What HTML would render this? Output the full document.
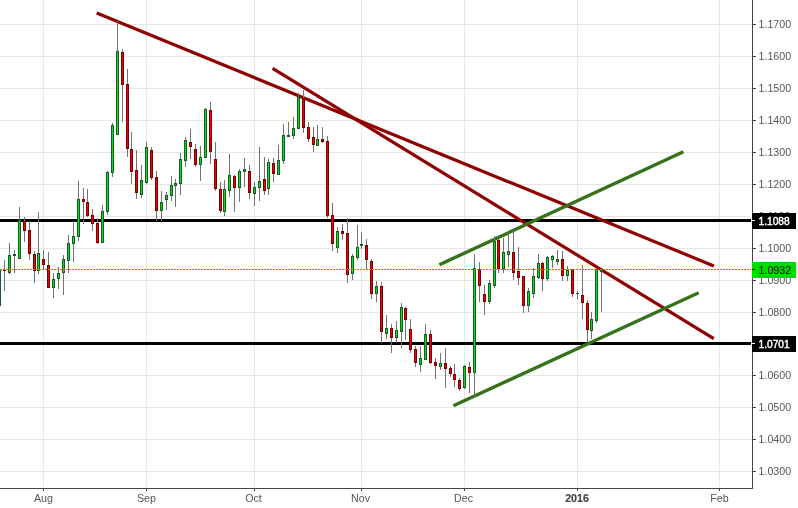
<!DOCTYPE html>
<html><head><meta charset="utf-8"><title>EUR/USD chart</title>
<style>html,body{margin:0;padding:0;background:#fff;overflow:hidden}body{width:798px;height:508px;position:relative}</style>
</head><body>
<svg width="798" height="508" viewBox="0 0 798 508" style="position:absolute;left:0;top:0">
<rect width="798" height="508" fill="#fff"/>
<g shape-rendering="crispEdges" fill="#e6e6e6">
<rect x="0" y="24" width="751" height="1"/>
<rect x="0" y="56" width="751" height="1"/>
<rect x="0" y="88" width="751" height="1"/>
<rect x="0" y="120" width="751" height="1"/>
<rect x="0" y="152" width="751" height="1"/>
<rect x="0" y="184" width="751" height="1"/>
<rect x="0" y="216" width="751" height="1"/>
<rect x="0" y="248" width="751" height="1"/>
<rect x="0" y="280" width="751" height="1"/>
<rect x="0" y="312" width="751" height="1"/>
<rect x="0" y="343" width="751" height="1"/>
<rect x="0" y="375" width="751" height="1"/>
<rect x="0" y="407" width="751" height="1"/>
<rect x="0" y="439" width="751" height="1"/>
<rect x="0" y="471" width="751" height="1"/>
<rect x="43" y="0" width="1" height="487"/>
<rect x="146" y="0" width="1" height="487"/>
<rect x="254" y="0" width="1" height="487"/>
<rect x="361" y="0" width="1" height="487"/>
<rect x="464" y="0" width="1" height="487"/>
<rect x="577" y="0" width="1" height="487"/>
<rect x="719" y="0" width="1" height="487"/>
</g>
<g shape-rendering="crispEdges" fill="#000">
<rect x="0" y="219" width="751" height="3"/>
<rect x="0" y="342" width="751" height="3"/>
</g>
<line x1="96.7" y1="13.0" x2="713.9" y2="266.0" stroke="#8f0000" stroke-width="3.2"/>
<line x1="272.6" y1="68.4" x2="713.8" y2="338.7" stroke="#8f0000" stroke-width="3.2"/>
<line x1="439.4" y1="264.7" x2="683.4" y2="151.8" stroke="#35721a" stroke-width="3.4"/>
<line x1="453.4" y1="405.7" x2="698.7" y2="292.8" stroke="#35721a" stroke-width="3.4"/>
<g shape-rendering="crispEdges">
<rect x="-1.0" y="270" width="1" height="36" fill="#737373"/>
<rect x="-2.0" y="270" width="3" height="36" fill="#155c2a"/>
<rect x="-1.0" y="271" width="1" height="34" fill="#08e208"/>
<rect x="4.0" y="260" width="1" height="31" fill="#737373"/>
<rect x="3.0" y="270" width="3" height="1" fill="#760000"/>
<rect x="9.0" y="243" width="1" height="31" fill="#737373"/>
<rect x="8.0" y="255" width="3" height="18" fill="#155c2a"/>
<rect x="9.0" y="256" width="1" height="16" fill="#08e208"/>
<rect x="14.0" y="250" width="1" height="23" fill="#737373"/>
<rect x="13.0" y="254" width="3" height="2" fill="#155c2a"/>
<rect x="19.0" y="207" width="1" height="52" fill="#737373"/>
<rect x="18.0" y="220" width="3" height="39" fill="#155c2a"/>
<rect x="19.0" y="221" width="1" height="37" fill="#08e208"/>
<rect x="24.0" y="217" width="1" height="25" fill="#737373"/>
<rect x="23.0" y="221" width="3" height="10" fill="#760000"/>
<rect x="24.0" y="222" width="1" height="8" fill="#f00000"/>
<rect x="29.0" y="221" width="1" height="39" fill="#737373"/>
<rect x="28.0" y="230" width="3" height="24" fill="#760000"/>
<rect x="29.0" y="231" width="1" height="22" fill="#f00000"/>
<rect x="34.0" y="251" width="1" height="32" fill="#737373"/>
<rect x="33.0" y="254" width="3" height="17" fill="#760000"/>
<rect x="34.0" y="255" width="1" height="15" fill="#f00000"/>
<rect x="38.0" y="212" width="1" height="62" fill="#737373"/>
<rect x="37.0" y="253" width="3" height="18" fill="#155c2a"/>
<rect x="38.0" y="254" width="1" height="16" fill="#08e208"/>
<rect x="43.0" y="250" width="1" height="19" fill="#737373"/>
<rect x="42.0" y="259" width="3" height="6" fill="#760000"/>
<rect x="43.0" y="260" width="1" height="4" fill="#f00000"/>
<rect x="48.0" y="252" width="1" height="36" fill="#737373"/>
<rect x="47.0" y="265" width="3" height="23" fill="#760000"/>
<rect x="48.0" y="266" width="1" height="21" fill="#f00000"/>
<rect x="53.0" y="273" width="1" height="25" fill="#737373"/>
<rect x="52.0" y="279" width="3" height="9" fill="#155c2a"/>
<rect x="53.0" y="280" width="1" height="7" fill="#08e208"/>
<rect x="58.0" y="267" width="1" height="22" fill="#737373"/>
<rect x="57.0" y="273" width="3" height="6" fill="#155c2a"/>
<rect x="58.0" y="274" width="1" height="4" fill="#08e208"/>
<rect x="63.0" y="255" width="1" height="40" fill="#737373"/>
<rect x="62.0" y="259" width="3" height="14" fill="#155c2a"/>
<rect x="63.0" y="260" width="1" height="12" fill="#08e208"/>
<rect x="68.0" y="235" width="1" height="38" fill="#737373"/>
<rect x="67.0" y="243" width="3" height="18" fill="#155c2a"/>
<rect x="68.0" y="244" width="1" height="16" fill="#08e208"/>
<rect x="73.0" y="221" width="1" height="41" fill="#737373"/>
<rect x="72.0" y="236" width="3" height="8" fill="#155c2a"/>
<rect x="73.0" y="237" width="1" height="6" fill="#08e208"/>
<rect x="78.0" y="181" width="1" height="60" fill="#737373"/>
<rect x="77.0" y="199" width="3" height="38" fill="#155c2a"/>
<rect x="78.0" y="200" width="1" height="36" fill="#08e208"/>
<rect x="83.0" y="188" width="1" height="36" fill="#737373"/>
<rect x="82.0" y="199" width="3" height="3" fill="#760000"/>
<rect x="83.0" y="200" width="1" height="1" fill="#f00000"/>
<rect x="87.0" y="189" width="1" height="28" fill="#737373"/>
<rect x="86.0" y="202" width="3" height="14" fill="#760000"/>
<rect x="87.0" y="203" width="1" height="12" fill="#f00000"/>
<rect x="92.0" y="209" width="1" height="22" fill="#737373"/>
<rect x="91.0" y="215" width="3" height="9" fill="#760000"/>
<rect x="92.0" y="216" width="1" height="7" fill="#f00000"/>
<rect x="97.0" y="218" width="1" height="26" fill="#737373"/>
<rect x="96.0" y="223" width="3" height="20" fill="#760000"/>
<rect x="97.0" y="224" width="1" height="18" fill="#f00000"/>
<rect x="102.0" y="205" width="1" height="38" fill="#737373"/>
<rect x="101.0" y="211" width="3" height="32" fill="#155c2a"/>
<rect x="102.0" y="212" width="1" height="30" fill="#08e208"/>
<rect x="107.0" y="171" width="1" height="44" fill="#737373"/>
<rect x="106.0" y="172" width="3" height="40" fill="#155c2a"/>
<rect x="107.0" y="173" width="1" height="38" fill="#08e208"/>
<rect x="112.0" y="123" width="1" height="54" fill="#737373"/>
<rect x="111.0" y="125" width="3" height="48" fill="#155c2a"/>
<rect x="112.0" y="126" width="1" height="46" fill="#08e208"/>
<rect x="117.0" y="21" width="1" height="114" fill="#737373"/>
<rect x="116.0" y="51" width="3" height="84" fill="#155c2a"/>
<rect x="117.0" y="52" width="1" height="82" fill="#08e208"/>
<rect x="122.0" y="49" width="1" height="73" fill="#737373"/>
<rect x="121.0" y="52" width="3" height="33" fill="#760000"/>
<rect x="122.0" y="53" width="1" height="31" fill="#f00000"/>
<rect x="127.0" y="69" width="1" height="88" fill="#737373"/>
<rect x="126.0" y="84" width="3" height="65" fill="#760000"/>
<rect x="127.0" y="85" width="1" height="63" fill="#f00000"/>
<rect x="131.0" y="132" width="1" height="52" fill="#737373"/>
<rect x="130.0" y="149" width="3" height="23" fill="#760000"/>
<rect x="131.0" y="150" width="1" height="21" fill="#f00000"/>
<rect x="136.0" y="150" width="1" height="49" fill="#737373"/>
<rect x="135.0" y="170" width="3" height="23" fill="#760000"/>
<rect x="136.0" y="171" width="1" height="21" fill="#f00000"/>
<rect x="141.0" y="165" width="1" height="33" fill="#737373"/>
<rect x="140.0" y="180" width="3" height="15" fill="#155c2a"/>
<rect x="141.0" y="181" width="1" height="13" fill="#08e208"/>
<rect x="146.0" y="142" width="1" height="42" fill="#737373"/>
<rect x="145.0" y="147" width="3" height="36" fill="#155c2a"/>
<rect x="146.0" y="148" width="1" height="34" fill="#08e208"/>
<rect x="151.0" y="147" width="1" height="33" fill="#737373"/>
<rect x="150.0" y="150" width="3" height="28" fill="#760000"/>
<rect x="151.0" y="151" width="1" height="26" fill="#f00000"/>
<rect x="156.0" y="171" width="1" height="50" fill="#737373"/>
<rect x="155.0" y="177" width="3" height="34" fill="#760000"/>
<rect x="156.0" y="178" width="1" height="32" fill="#f00000"/>
<rect x="161.0" y="191" width="1" height="30" fill="#737373"/>
<rect x="160.0" y="202" width="3" height="9" fill="#155c2a"/>
<rect x="161.0" y="203" width="1" height="7" fill="#08e208"/>
<rect x="166.0" y="192" width="1" height="18" fill="#737373"/>
<rect x="165.0" y="195" width="3" height="5" fill="#155c2a"/>
<rect x="166.0" y="196" width="1" height="3" fill="#08e208"/>
<rect x="171.0" y="176" width="1" height="25" fill="#737373"/>
<rect x="170.0" y="185" width="3" height="11" fill="#155c2a"/>
<rect x="171.0" y="186" width="1" height="9" fill="#08e208"/>
<rect x="175.0" y="179" width="1" height="28" fill="#737373"/>
<rect x="174.0" y="183" width="3" height="3" fill="#155c2a"/>
<rect x="175.0" y="184" width="1" height="1" fill="#08e208"/>
<rect x="180.0" y="153" width="1" height="42" fill="#737373"/>
<rect x="179.0" y="159" width="3" height="25" fill="#155c2a"/>
<rect x="180.0" y="160" width="1" height="23" fill="#08e208"/>
<rect x="185.0" y="137" width="1" height="30" fill="#737373"/>
<rect x="184.0" y="140" width="3" height="21" fill="#155c2a"/>
<rect x="185.0" y="141" width="1" height="19" fill="#08e208"/>
<rect x="190.0" y="129" width="1" height="30" fill="#737373"/>
<rect x="189.0" y="142" width="3" height="5" fill="#760000"/>
<rect x="190.0" y="143" width="1" height="3" fill="#f00000"/>
<rect x="195.0" y="144" width="1" height="23" fill="#737373"/>
<rect x="194.0" y="149" width="3" height="16" fill="#760000"/>
<rect x="195.0" y="150" width="1" height="14" fill="#f00000"/>
<rect x="200.0" y="146" width="1" height="35" fill="#737373"/>
<rect x="199.0" y="157" width="3" height="8" fill="#155c2a"/>
<rect x="200.0" y="158" width="1" height="6" fill="#08e208"/>
<rect x="205.0" y="108" width="1" height="50" fill="#737373"/>
<rect x="204.0" y="109" width="3" height="49" fill="#155c2a"/>
<rect x="205.0" y="110" width="1" height="47" fill="#08e208"/>
<rect x="210.0" y="102" width="1" height="62" fill="#737373"/>
<rect x="209.0" y="110" width="3" height="42" fill="#760000"/>
<rect x="210.0" y="111" width="1" height="40" fill="#f00000"/>
<rect x="215.0" y="142" width="1" height="49" fill="#737373"/>
<rect x="214.0" y="159" width="3" height="30" fill="#760000"/>
<rect x="215.0" y="160" width="1" height="28" fill="#f00000"/>
<rect x="220.0" y="182" width="1" height="31" fill="#737373"/>
<rect x="219.0" y="189" width="3" height="22" fill="#760000"/>
<rect x="220.0" y="190" width="1" height="20" fill="#f00000"/>
<rect x="224.0" y="180" width="1" height="36" fill="#737373"/>
<rect x="223.0" y="189" width="3" height="23" fill="#155c2a"/>
<rect x="224.0" y="190" width="1" height="21" fill="#08e208"/>
<rect x="229.0" y="154" width="1" height="43" fill="#737373"/>
<rect x="228.0" y="175" width="3" height="16" fill="#155c2a"/>
<rect x="229.0" y="176" width="1" height="14" fill="#08e208"/>
<rect x="234.0" y="175" width="1" height="37" fill="#737373"/>
<rect x="233.0" y="176" width="3" height="12" fill="#760000"/>
<rect x="234.0" y="177" width="1" height="10" fill="#f00000"/>
<rect x="239.0" y="169" width="1" height="33" fill="#737373"/>
<rect x="238.0" y="171" width="3" height="17" fill="#155c2a"/>
<rect x="239.0" y="172" width="1" height="15" fill="#08e208"/>
<rect x="244.0" y="158" width="1" height="29" fill="#737373"/>
<rect x="243.0" y="169" width="3" height="3" fill="#155c2a"/>
<rect x="244.0" y="170" width="1" height="1" fill="#08e208"/>
<rect x="249.0" y="165" width="1" height="34" fill="#737373"/>
<rect x="248.0" y="171" width="3" height="22" fill="#760000"/>
<rect x="249.0" y="172" width="1" height="20" fill="#f00000"/>
<rect x="254.0" y="182" width="1" height="24" fill="#737373"/>
<rect x="253.0" y="187" width="3" height="7" fill="#155c2a"/>
<rect x="254.0" y="188" width="1" height="5" fill="#08e208"/>
<rect x="259.0" y="147" width="1" height="54" fill="#737373"/>
<rect x="258.0" y="181" width="3" height="7" fill="#155c2a"/>
<rect x="259.0" y="182" width="1" height="5" fill="#08e208"/>
<rect x="264.0" y="157" width="1" height="38" fill="#737373"/>
<rect x="263.0" y="179" width="3" height="12" fill="#760000"/>
<rect x="264.0" y="180" width="1" height="10" fill="#f00000"/>
<rect x="268.0" y="159" width="1" height="36" fill="#737373"/>
<rect x="267.0" y="162" width="3" height="27" fill="#155c2a"/>
<rect x="268.0" y="163" width="1" height="25" fill="#08e208"/>
<rect x="273.0" y="158" width="1" height="24" fill="#737373"/>
<rect x="272.0" y="163" width="3" height="11" fill="#760000"/>
<rect x="273.0" y="164" width="1" height="9" fill="#f00000"/>
<rect x="278.0" y="145" width="1" height="30" fill="#737373"/>
<rect x="277.0" y="160" width="3" height="15" fill="#155c2a"/>
<rect x="278.0" y="161" width="1" height="13" fill="#08e208"/>
<rect x="283.0" y="124" width="1" height="40" fill="#737373"/>
<rect x="282.0" y="135" width="3" height="26" fill="#155c2a"/>
<rect x="283.0" y="136" width="1" height="24" fill="#08e208"/>
<rect x="288.0" y="122" width="1" height="15" fill="#737373"/>
<rect x="287.0" y="135" width="3" height="2" fill="#155c2a"/>
<rect x="293.0" y="117" width="1" height="22" fill="#737373"/>
<rect x="292.0" y="128" width="3" height="8" fill="#155c2a"/>
<rect x="293.0" y="129" width="1" height="6" fill="#08e208"/>
<rect x="298.0" y="93" width="1" height="36" fill="#737373"/>
<rect x="297.0" y="97" width="3" height="32" fill="#155c2a"/>
<rect x="298.0" y="98" width="1" height="30" fill="#08e208"/>
<rect x="303.0" y="90" width="1" height="43" fill="#737373"/>
<rect x="302.0" y="98" width="3" height="30" fill="#760000"/>
<rect x="303.0" y="99" width="1" height="28" fill="#f00000"/>
<rect x="308.0" y="122" width="1" height="20" fill="#737373"/>
<rect x="307.0" y="127" width="3" height="12" fill="#760000"/>
<rect x="308.0" y="128" width="1" height="10" fill="#f00000"/>
<rect x="313.0" y="127" width="1" height="25" fill="#737373"/>
<rect x="312.0" y="137" width="3" height="8" fill="#760000"/>
<rect x="313.0" y="138" width="1" height="6" fill="#f00000"/>
<rect x="317.0" y="125" width="1" height="21" fill="#737373"/>
<rect x="316.0" y="139" width="3" height="7" fill="#155c2a"/>
<rect x="317.0" y="140" width="1" height="5" fill="#08e208"/>
<rect x="322.0" y="127" width="1" height="16" fill="#737373"/>
<rect x="321.0" y="139" width="3" height="3" fill="#760000"/>
<rect x="322.0" y="140" width="1" height="1" fill="#f00000"/>
<rect x="327.0" y="136" width="1" height="82" fill="#737373"/>
<rect x="326.0" y="141" width="3" height="75" fill="#760000"/>
<rect x="327.0" y="142" width="1" height="73" fill="#f00000"/>
<rect x="332.0" y="203" width="1" height="48" fill="#737373"/>
<rect x="331.0" y="215" width="3" height="29" fill="#760000"/>
<rect x="332.0" y="216" width="1" height="27" fill="#f00000"/>
<rect x="337.0" y="227" width="1" height="26" fill="#737373"/>
<rect x="336.0" y="231" width="3" height="17" fill="#155c2a"/>
<rect x="337.0" y="232" width="1" height="15" fill="#08e208"/>
<rect x="342.0" y="224" width="1" height="16" fill="#737373"/>
<rect x="341.0" y="231" width="3" height="3" fill="#760000"/>
<rect x="342.0" y="232" width="1" height="1" fill="#f00000"/>
<rect x="347.0" y="218" width="1" height="65" fill="#737373"/>
<rect x="346.0" y="233" width="3" height="42" fill="#760000"/>
<rect x="347.0" y="234" width="1" height="40" fill="#f00000"/>
<rect x="352.0" y="254" width="1" height="26" fill="#737373"/>
<rect x="351.0" y="256" width="3" height="18" fill="#155c2a"/>
<rect x="352.0" y="257" width="1" height="16" fill="#08e208"/>
<rect x="357.0" y="225" width="1" height="35" fill="#737373"/>
<rect x="356.0" y="247" width="3" height="11" fill="#155c2a"/>
<rect x="357.0" y="248" width="1" height="9" fill="#08e208"/>
<rect x="361.0" y="232" width="1" height="17" fill="#737373"/>
<rect x="360.0" y="244" width="3" height="2" fill="#155c2a"/>
<rect x="366.0" y="239" width="1" height="30" fill="#737373"/>
<rect x="365.0" y="245" width="3" height="15" fill="#760000"/>
<rect x="366.0" y="246" width="1" height="13" fill="#f00000"/>
<rect x="371.0" y="259" width="1" height="40" fill="#737373"/>
<rect x="370.0" y="261" width="3" height="33" fill="#760000"/>
<rect x="371.0" y="262" width="1" height="31" fill="#f00000"/>
<rect x="376.0" y="281" width="1" height="21" fill="#737373"/>
<rect x="375.0" y="286" width="3" height="8" fill="#155c2a"/>
<rect x="376.0" y="287" width="1" height="6" fill="#08e208"/>
<rect x="381.0" y="282" width="1" height="61" fill="#737373"/>
<rect x="380.0" y="286" width="3" height="46" fill="#760000"/>
<rect x="381.0" y="287" width="1" height="44" fill="#f00000"/>
<rect x="386.0" y="315" width="1" height="24" fill="#737373"/>
<rect x="385.0" y="328" width="3" height="6" fill="#155c2a"/>
<rect x="386.0" y="329" width="1" height="4" fill="#08e208"/>
<rect x="391.0" y="324" width="1" height="29" fill="#737373"/>
<rect x="390.0" y="328" width="3" height="10" fill="#760000"/>
<rect x="391.0" y="329" width="1" height="8" fill="#f00000"/>
<rect x="396.0" y="321" width="1" height="22" fill="#737373"/>
<rect x="395.0" y="330" width="3" height="8" fill="#155c2a"/>
<rect x="396.0" y="331" width="1" height="6" fill="#08e208"/>
<rect x="401.0" y="303" width="1" height="45" fill="#737373"/>
<rect x="400.0" y="307" width="3" height="25" fill="#155c2a"/>
<rect x="401.0" y="308" width="1" height="23" fill="#08e208"/>
<rect x="405.0" y="307" width="1" height="33" fill="#737373"/>
<rect x="404.0" y="308" width="3" height="12" fill="#760000"/>
<rect x="405.0" y="309" width="1" height="10" fill="#f00000"/>
<rect x="410.0" y="319" width="1" height="34" fill="#737373"/>
<rect x="409.0" y="329" width="3" height="21" fill="#760000"/>
<rect x="410.0" y="330" width="1" height="19" fill="#f00000"/>
<rect x="415.0" y="346" width="1" height="21" fill="#737373"/>
<rect x="414.0" y="349" width="3" height="14" fill="#760000"/>
<rect x="415.0" y="350" width="1" height="12" fill="#f00000"/>
<rect x="420.0" y="346" width="1" height="26" fill="#737373"/>
<rect x="419.0" y="358" width="3" height="7" fill="#155c2a"/>
<rect x="420.0" y="359" width="1" height="5" fill="#08e208"/>
<rect x="425.0" y="324" width="1" height="36" fill="#737373"/>
<rect x="424.0" y="334" width="3" height="26" fill="#155c2a"/>
<rect x="425.0" y="335" width="1" height="24" fill="#08e208"/>
<rect x="430.0" y="330" width="1" height="34" fill="#737373"/>
<rect x="429.0" y="334" width="3" height="29" fill="#760000"/>
<rect x="430.0" y="335" width="1" height="27" fill="#f00000"/>
<rect x="435.0" y="358" width="1" height="21" fill="#737373"/>
<rect x="434.0" y="362" width="3" height="4" fill="#760000"/>
<rect x="435.0" y="363" width="1" height="2" fill="#f00000"/>
<rect x="440.0" y="353" width="1" height="17" fill="#737373"/>
<rect x="439.0" y="363" width="3" height="4" fill="#155c2a"/>
<rect x="440.0" y="364" width="1" height="2" fill="#08e208"/>
<rect x="445.0" y="348" width="1" height="40" fill="#737373"/>
<rect x="444.0" y="363" width="3" height="6" fill="#760000"/>
<rect x="445.0" y="364" width="1" height="4" fill="#f00000"/>
<rect x="450.0" y="366" width="1" height="11" fill="#737373"/>
<rect x="449.0" y="368" width="3" height="6" fill="#760000"/>
<rect x="450.0" y="369" width="1" height="4" fill="#f00000"/>
<rect x="454.0" y="364" width="1" height="23" fill="#737373"/>
<rect x="453.0" y="374" width="3" height="6" fill="#760000"/>
<rect x="454.0" y="375" width="1" height="4" fill="#f00000"/>
<rect x="459.0" y="378" width="1" height="13" fill="#737373"/>
<rect x="458.0" y="380" width="3" height="9" fill="#760000"/>
<rect x="459.0" y="381" width="1" height="7" fill="#f00000"/>
<rect x="464.0" y="365" width="1" height="24" fill="#737373"/>
<rect x="463.0" y="366" width="3" height="22" fill="#155c2a"/>
<rect x="464.0" y="367" width="1" height="20" fill="#08e208"/>
<rect x="469.0" y="362" width="1" height="31" fill="#737373"/>
<rect x="468.0" y="367" width="3" height="6" fill="#760000"/>
<rect x="469.0" y="368" width="1" height="4" fill="#f00000"/>
<rect x="474.0" y="254" width="1" height="142" fill="#737373"/>
<rect x="473.0" y="268" width="3" height="105" fill="#155c2a"/>
<rect x="474.0" y="269" width="1" height="103" fill="#08e208"/>
<rect x="479.0" y="262" width="1" height="40" fill="#737373"/>
<rect x="478.0" y="269" width="3" height="17" fill="#760000"/>
<rect x="479.0" y="270" width="1" height="15" fill="#f00000"/>
<rect x="484.0" y="285" width="1" height="30" fill="#737373"/>
<rect x="483.0" y="294" width="3" height="8" fill="#760000"/>
<rect x="484.0" y="295" width="1" height="6" fill="#f00000"/>
<rect x="489.0" y="280" width="1" height="24" fill="#737373"/>
<rect x="488.0" y="283" width="3" height="19" fill="#155c2a"/>
<rect x="489.0" y="284" width="1" height="17" fill="#08e208"/>
<rect x="494.0" y="236" width="1" height="52" fill="#737373"/>
<rect x="493.0" y="241" width="3" height="45" fill="#155c2a"/>
<rect x="494.0" y="242" width="1" height="43" fill="#08e208"/>
<rect x="498.0" y="239" width="1" height="34" fill="#737373"/>
<rect x="497.0" y="240" width="3" height="29" fill="#760000"/>
<rect x="498.0" y="241" width="1" height="27" fill="#f00000"/>
<rect x="503.0" y="238" width="1" height="35" fill="#737373"/>
<rect x="502.0" y="252" width="3" height="17" fill="#155c2a"/>
<rect x="503.0" y="253" width="1" height="15" fill="#08e208"/>
<rect x="508.0" y="233" width="1" height="34" fill="#737373"/>
<rect x="507.0" y="251" width="3" height="4" fill="#155c2a"/>
<rect x="508.0" y="252" width="1" height="2" fill="#08e208"/>
<rect x="513.0" y="231" width="1" height="49" fill="#737373"/>
<rect x="512.0" y="252" width="3" height="21" fill="#760000"/>
<rect x="513.0" y="253" width="1" height="19" fill="#f00000"/>
<rect x="518.0" y="247" width="1" height="38" fill="#737373"/>
<rect x="517.0" y="271" width="3" height="7" fill="#760000"/>
<rect x="518.0" y="272" width="1" height="5" fill="#f00000"/>
<rect x="523.0" y="276" width="1" height="37" fill="#737373"/>
<rect x="522.0" y="276" width="3" height="30" fill="#760000"/>
<rect x="523.0" y="277" width="1" height="28" fill="#f00000"/>
<rect x="528.0" y="288" width="1" height="24" fill="#737373"/>
<rect x="527.0" y="291" width="3" height="15" fill="#155c2a"/>
<rect x="528.0" y="292" width="1" height="13" fill="#08e208"/>
<rect x="533.0" y="268" width="1" height="30" fill="#737373"/>
<rect x="532.0" y="276" width="3" height="18" fill="#155c2a"/>
<rect x="533.0" y="277" width="1" height="16" fill="#08e208"/>
<rect x="538.0" y="254" width="1" height="25" fill="#737373"/>
<rect x="537.0" y="263" width="3" height="15" fill="#155c2a"/>
<rect x="538.0" y="264" width="1" height="13" fill="#08e208"/>
<rect x="542.0" y="262" width="1" height="29" fill="#737373"/>
<rect x="541.0" y="263" width="3" height="16" fill="#760000"/>
<rect x="542.0" y="264" width="1" height="14" fill="#f00000"/>
<rect x="547.0" y="256" width="1" height="25" fill="#737373"/>
<rect x="546.0" y="257" width="3" height="22" fill="#155c2a"/>
<rect x="547.0" y="258" width="1" height="20" fill="#08e208"/>
<rect x="552.0" y="255" width="1" height="13" fill="#737373"/>
<rect x="551.0" y="256" width="3" height="4" fill="#155c2a"/>
<rect x="552.0" y="257" width="1" height="2" fill="#08e208"/>
<rect x="557.0" y="250" width="1" height="15" fill="#737373"/>
<rect x="556.0" y="259" width="3" height="3" fill="#155c2a"/>
<rect x="557.0" y="260" width="1" height="1" fill="#08e208"/>
<rect x="562.0" y="251" width="1" height="30" fill="#737373"/>
<rect x="561.0" y="259" width="3" height="17" fill="#760000"/>
<rect x="562.0" y="260" width="1" height="15" fill="#f00000"/>
<rect x="567.0" y="266" width="1" height="15" fill="#737373"/>
<rect x="566.0" y="270" width="3" height="6" fill="#155c2a"/>
<rect x="567.0" y="271" width="1" height="4" fill="#08e208"/>
<rect x="572.0" y="269" width="1" height="28" fill="#737373"/>
<rect x="571.0" y="270" width="3" height="24" fill="#760000"/>
<rect x="572.0" y="271" width="1" height="22" fill="#f00000"/>
<rect x="577.0" y="291" width="1" height="8" fill="#737373"/>
<rect x="576.0" y="293" width="3" height="1" fill="#155c2a"/>
<rect x="582.0" y="265" width="1" height="54" fill="#737373"/>
<rect x="581.0" y="295" width="3" height="8" fill="#760000"/>
<rect x="582.0" y="296" width="1" height="6" fill="#f00000"/>
<rect x="587.0" y="300" width="1" height="42" fill="#737373"/>
<rect x="586.0" y="303" width="3" height="27" fill="#760000"/>
<rect x="587.0" y="304" width="1" height="25" fill="#f00000"/>
<rect x="591.0" y="312" width="1" height="27" fill="#737373"/>
<rect x="590.0" y="319" width="3" height="12" fill="#155c2a"/>
<rect x="591.0" y="320" width="1" height="10" fill="#08e208"/>
<rect x="596.0" y="269" width="1" height="54" fill="#737373"/>
<rect x="595.0" y="269" width="3" height="52" fill="#155c2a"/>
<rect x="596.0" y="270" width="1" height="50" fill="#08e208"/>
<rect x="601.0" y="269" width="1" height="43" fill="#737373"/>
<rect x="600.0" y="270" width="3" height="2" fill="#155c2a"/>
</g>
<line x1="0" y1="269.5" x2="751" y2="269.5" stroke="#00d800" stroke-width="1" stroke-dasharray="2 1" shape-rendering="crispEdges"/>
<g shape-rendering="crispEdges" fill="#454545">
<rect x="752" y="0" width="1" height="489"/>
<rect x="0" y="488" width="753" height="1"/>
<rect x="753" y="24" width="3" height="1"/>
<rect x="753" y="56" width="3" height="1"/>
<rect x="753" y="88" width="3" height="1"/>
<rect x="753" y="120" width="3" height="1"/>
<rect x="753" y="152" width="3" height="1"/>
<rect x="753" y="184" width="3" height="1"/>
<rect x="753" y="216" width="3" height="1"/>
<rect x="753" y="248" width="3" height="1"/>
<rect x="753" y="280" width="3" height="1"/>
<rect x="753" y="312" width="3" height="1"/>
<rect x="753" y="343" width="3" height="1"/>
<rect x="753" y="375" width="3" height="1"/>
<rect x="753" y="407" width="3" height="1"/>
<rect x="753" y="439" width="3" height="1"/>
<rect x="753" y="471" width="3" height="1"/>
<rect x="43" y="489" width="1" height="2"/>
<rect x="146" y="489" width="1" height="2"/>
<rect x="254" y="489" width="1" height="2"/>
<rect x="361" y="489" width="1" height="2"/>
<rect x="464" y="489" width="1" height="2"/>
<rect x="577" y="489" width="1" height="2"/>
<rect x="719" y="489" width="1" height="2"/>
</g>
<g font-family="Liberation Sans, sans-serif" font-size="10.67" fill="#555">
<text x="758.5" y="28.3">1.1700</text>
<text x="758.5" y="60.3">1.1600</text>
<text x="758.5" y="92.3">1.1500</text>
<text x="758.5" y="124.3">1.1400</text>
<text x="758.5" y="156.3">1.1300</text>
<text x="758.5" y="188.3">1.1200</text>
<text x="758.5" y="220.3">1.1100</text>
<text x="758.5" y="252.3">1.1000</text>
<text x="758.5" y="284.3">1.0900</text>
<text x="758.5" y="316.3">1.0800</text>
<text x="758.5" y="347.3">1.0700</text>
<text x="758.5" y="379.3">1.0600</text>
<text x="758.5" y="411.3">1.0500</text>
<text x="758.5" y="443.3">1.0400</text>
<text x="758.5" y="475.3">1.0300</text>
<text x="43.5" y="501.8" text-anchor="middle">Aug</text>
<text x="146.5" y="501.8" text-anchor="middle">Sep</text>
<text x="253.5" y="501.8" text-anchor="middle">Oct</text>
<text x="360.5" y="501.8" text-anchor="middle">Nov</text>
<text x="463.5" y="501.8" text-anchor="middle">Dec</text>
<text x="577.0" y="501.8" text-anchor="middle" font-weight="bold" fill="#484848" stroke="#484848" stroke-width="0.2">2016</text>
<text x="719.5" y="501.8" text-anchor="middle">Feb</text>
</g>
<rect x="752" y="213" width="44" height="16" fill="#000" shape-rendering="crispEdges"/>
<rect x="752" y="220" width="3" height="1" fill="#fff" shape-rendering="crispEdges"/>
<rect x="752" y="336" width="44" height="16" fill="#000" shape-rendering="crispEdges"/>
<rect x="752" y="343" width="3" height="1" fill="#fff" shape-rendering="crispEdges"/>
<rect x="752" y="262" width="44" height="16" fill="#00dc00" shape-rendering="crispEdges"/>
<rect x="752" y="269" width="3" height="1" fill="#000" shape-rendering="crispEdges"/>
<g font-family="Liberation Sans, sans-serif" font-size="10.67">
<text x="758.5" y="225" fill="#fff" stroke="#fff" stroke-width="0.45" textLength="31.2" lengthAdjust="spacingAndGlyphs">1.1088</text>
<text x="758.5" y="348" fill="#fff" stroke="#fff" stroke-width="0.45" textLength="31.2" lengthAdjust="spacingAndGlyphs">1.0701</text>
<text x="758.5" y="274" fill="#000">1.0932</text>
</g>
</svg>
</body></html>
